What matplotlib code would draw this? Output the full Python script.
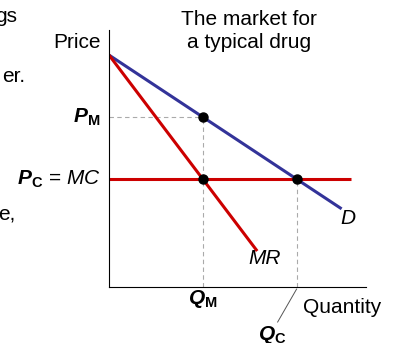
import matplotlib.pyplot as plt

# Data (model units)
demand_q = [0, 12.4]
demand_p = [10, 3.37]
mr_q = [0, 7.9]
mr_p = [10, 1.55]
mc_q = [0, 12.9]
mc_p = [4.65, 4.65]
q_m, p_m = 5.0, 7.33
q_c, p_c = 10.0, 4.65
x_max, y_max = 13.7, 11.08

plt.rcParams['font.family'] = ['Liberation Sans', 'DejaVu Sans']
plt.rcParams['mathtext.fontset'] = 'custom'
plt.rcParams['mathtext.rm'] = 'Liberation Sans'
plt.rcParams['mathtext.it'] = 'Liberation Sans:italic'
plt.rcParams['mathtext.bf'] = 'Liberation Sans:bold'
plt.rcParams['mathtext.bfit'] = 'Liberation Sans:italic:bold'

fs = 15
fig = plt.figure(figsize=(3.95, 3.43), dpi=100)
ax = fig.add_axes([109 / 395, 56 / 343, 257 / 395, 257 / 343])

# dashed guides
ax.plot([0, q_m], [p_m, p_m], color='#aaaaaa', lw=0.8, ls=(0, (4, 3)))
ax.plot([q_m, q_m], [0, p_m], color='#aaaaaa', lw=0.8, ls=(0, (4, 3)))
ax.plot([q_c, q_c], [0, p_c], color='#aaaaaa', lw=0.8, ls=(0, (4, 3)))

# curves
ax.plot(demand_q, demand_p, color='#333399', lw=2.2, solid_capstyle='butt')
ax.plot(mr_q, mr_p, color='#cc0000', lw=2.2, solid_capstyle='butt')
ax.plot(mc_q, mc_p, color='#cc0000', lw=2.2, solid_capstyle='butt')

# points
ax.plot([q_m, q_m, q_c], [p_m, p_c, p_c], 'o', color='black', ms=6.5, zorder=5)

ax.set_xlim(0, x_max)
ax.set_ylim(0, y_max)
ax.spines['top'].set_visible(False)
ax.spines['right'].set_visible(False)
ax.set_xticks([])
ax.set_yticks([])

# labels
ax.text(-0.45, 10.56, 'Price', ha='right', va='center', fontsize=fs)
ax.text(-0.45, p_m, r'$\mathbfit{P}_{\mathbf{M}}$', ha='right', va='center', fontsize=fs)
ax.text(-0.45, p_c, r'$\mathbfit{P}_{\mathbf{C}}$ = $\mathit{MC}$', ha='right', va='center', fontsize=fs)
ax.text(q_m, -0.5, r'$\mathbfit{Q}_{\mathbf{M}}$', ha='center', va='center', fontsize=fs)
ax.text(8.69, -2.05, r'$\mathbfit{Q}_{\mathbf{C}}$', ha='center', va='center', fontsize=fs)
ax.plot([q_c, 8.99], [-0.09, -1.51], color='#555555', lw=0.7, clip_on=False)
ax.text(10.34, -0.9, 'Quantity', ha='left', va='center', fontsize=fs)
ax.text(12.74, 2.97, 'D', ha='center', va='center', fontsize=fs, style='italic')
ax.text(8.32, 1.25, 'MR', ha='center', va='center', fontsize=fs, style='italic')

fig.text(249 / 395, 1 - 31 / 343, 'The market for\na typical drug', ha='center',
         va='center', fontsize=fs, linespacing=1.3)

# cut-off text from the slide's left side
fig.text(17 / 395, 1 - 16 / 343, 'gs', ha='right', va='center', fontsize=fs)
fig.text(25 / 395, 1 - 76 / 343, 'er.', ha='right', va='center', fontsize=fs)
fig.text(15 / 395, 1 - 214 / 343, 'e,', ha='right', va='center', fontsize=fs)

plt.savefig('out.png', dpi=100)
